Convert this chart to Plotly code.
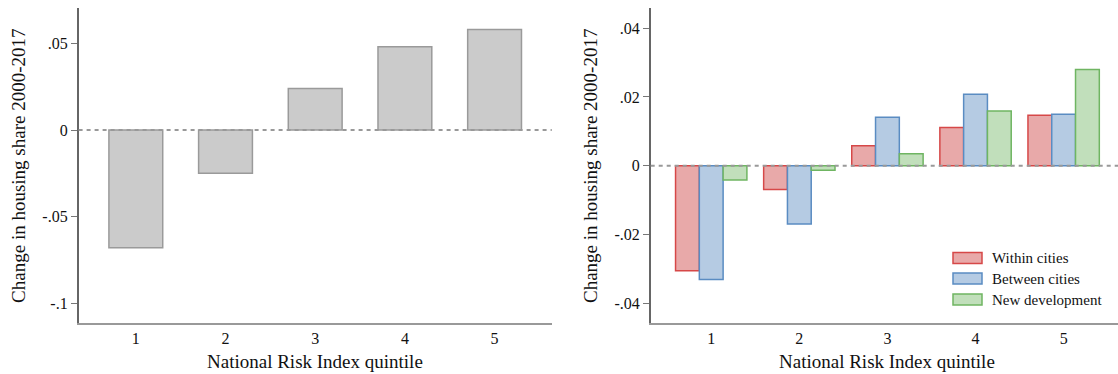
import plotly.graph_objects as go

# Quintiles of the National Risk Index
quintiles = [1, 2, 3, 4, 5]
tick_labels = ["1", "2", "3", "4", "5"]

# Overall change in housing share, 2000-2017
total_change = [-0.068, -0.025, 0.024, 0.048, 0.058]

# Decomposition of the change
within_cities = [-0.0306, -0.0069, 0.0058, 0.0111, 0.0147]
between_cities = [-0.0331, -0.0170, 0.0141, 0.0208, 0.0150]
new_development = [-0.0042, -0.0013, 0.0035, 0.0159, 0.0280]

series_names = ["Within cities", "Between cities", "New development"]
fills = ["#e8a9a9", "#b5cbe3", "#c1dfbb"]
edges = ["#d64848", "#5a8cc2", "#6fb562"]

W, H = 1118, 374
FONT = "Liberation Serif, Times New Roman, serif"

fig = go.Figure()

fig.add_trace(go.Bar(
    x=quintiles, y=total_change, xaxis="x", yaxis="y", width=0.6,
    marker=dict(color="#cbcbcb", line=dict(color="#9a9a9a", width=1.5)),
    showlegend=False,
))

for name, vals, fc, ec in zip(series_names,
                              [within_cities, between_cities, new_development],
                              fills, edges):
    fig.add_trace(go.Bar(
        x=quintiles, y=vals, name=name, xaxis="x2", yaxis="y2",
        marker=dict(color=fc, line=dict(color=ec, width=1.5)),
        showlegend=False,
    ))

def px_x(p):
    return p / W

def px_y(p):
    return 1 - p / H

ydom = [px_y(322.7), px_y(8)]

common_x = dict(
    tickmode="array", tickvals=quintiles, ticktext=tick_labels,
    ticks="", showline=True, linecolor="#999999", linewidth=1.5,
    showgrid=False, zeroline=False, ticklabelstandoff=0,
    tickfont=dict(family=FONT, size=16, color="#111"),
)
common_y = dict(
    ticks="outside", ticklen=6, tickcolor="#777777", tickwidth=1,
    showline=True, linecolor="#666666", linewidth=1.5,
    showgrid=False, zeroline=False,
    tickfont=dict(family=FONT, size=16, color="#111"),
)

fig.update_layout(
    width=W, height=H,
    margin=dict(l=0, r=0, t=0, b=0),
    paper_bgcolor="white", plot_bgcolor="white",
    barmode="group", bargap=0.19, bargroupgap=0,
    font=dict(family=FONT, color="#111"),
    xaxis=dict(domain=[px_x(78.6), px_x(551.8)], range=[0.362, 5.638],
               anchor="y", **common_x),
    yaxis=dict(domain=ydom, range=[-0.1112, 0.0704], anchor="x",
               tickvals=[-0.1, -0.05, 0, 0.05],
               ticktext=["-.1", "-.05", "0", ".05"], **common_y),
    xaxis2=dict(domain=[px_x(650.7), 1.0], range=[0.313, 5.617],
                anchor="y2", **common_x),
    yaxis2=dict(domain=ydom, range=[-0.0457, 0.0459], anchor="x2",
                tickvals=[-0.04, -0.02, 0, 0.02, 0.04],
                ticktext=["-.04", "-.02", "0", ".02", ".04"], **common_y),
)

# Dashed reference line at zero in both panels
for xr, yr in [("x domain", "y"), ("x2 domain", "y2")]:
    fig.add_shape(type="line", xref=xr, yref=yr, x0=0, x1=1, y0=0, y1=0,
                  line=dict(color="#999999", width=2, dash="4px,4px"),
                  layer="above")

# Axis titles
ytitle = "Change in housing share 2000-2017"
xtitle = "National Risk Index quintile"
for xc in [17.9, 590.0]:
    fig.add_annotation(text=ytitle, x=px_x(xc), y=px_y(166), xref="paper",
                       yref="paper", textangle=-90, showarrow=False,
                       font=dict(family=FONT, size=19, color="#111"),
                       xanchor="center", yanchor="middle")
for xc in [315.2, 887.4]:
    fig.add_annotation(text=xtitle, x=px_x(xc), y=px_y(361.0), xref="paper",
                       yref="paper", showarrow=False,
                       font=dict(family=FONT, size=19, color="#111"),
                       xanchor="center", yanchor="middle")

# Legend for the decomposition panel
row_centers = [258.0, 278.5, 299.5]
for name, fc, ec, yc in zip(series_names, fills, edges, row_centers):
    fig.add_shape(type="rect", xref="paper", yref="paper",
                  x0=px_x(953), x1=px_x(982), y0=px_y(yc + 5.5), y1=px_y(yc - 5.5),
                  fillcolor=fc, line=dict(color=ec, width=1.5))
    fig.add_annotation(text=name, x=px_x(990), y=px_y(yc), xref="paper",
                       yref="paper", showarrow=False, xanchor="left",
                       yanchor="middle",
                       font=dict(family=FONT, size=15, color="#111"))

fig.write_html("out.html")
